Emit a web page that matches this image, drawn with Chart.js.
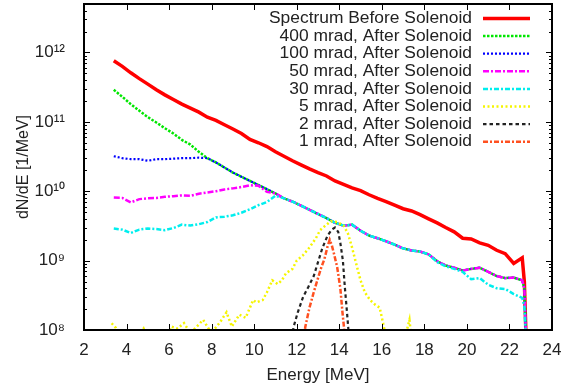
<!DOCTYPE html>
<html>
<head>
<meta charset="utf-8">
<script src="https://cdn.jsdelivr.net/npm/chart.js@4"></script>
<style>
  html, body { margin: 0; padding: 0; background: #fff; }
</style>
</head>
<body>
<canvas id="chart" width="573" height="387"></canvas>
<script>
// energy grid (MeV) shared by the broad spectra
const energy = [3.4, 3.8, 4.2, 4.6, 5.0, 5.4, 5.8, 6.2, 6.6, 7.0,
  7.4, 7.8, 8.2, 8.6, 9.0, 9.4, 9.8, 10.2, 10.6, 11.0,
  11.4, 11.8, 12.2, 12.6, 13.0, 13.4, 13.8, 14.2, 14.6, 15.0,
  15.4, 15.8, 16.2, 16.6, 17.0, 17.4, 17.8, 18.2, 18.6, 19.0,
  19.4, 19.8, 20.2, 20.6, 21.0, 21.4, 21.8, 22.2, 22.6, 22.7, 22.8];

const beforeSolenoid = [7.6e11, 6.3e11, 5.1e11, 4.2e11, 3.5e11, 2.9e11, 2.45e11, 2.1e11, 1.8e11, 1.58e11,
  1.38e11, 1.17e11, 1.05e11, 9.1e10, 7.9e10, 6.8e10, 5.6e10, 5.0e10, 4.4e10, 3.7e10,
  3.2e10, 2.75e10, 2.4e10, 2.1e10, 1.86e10, 1.66e10, 1.41e10, 1.26e10, 1.12e10, 1.02e10,
  8.9e9, 7.9e9, 7.1e9, 6.3e9, 5.6e9, 5.2e9, 4.6e9, 4.0e9, 3.5e9, 3.0e9,
  2.6e9, 2.1e9, 2.05e9, 1.8e9, 1.66e9, 1.41e9, 1.26e9, 9.1e8, 1.1e9, 5.0e8, 5e7];

const mrad400 = [2.9e11, 2.3e11, 1.8e11, 1.45e11, 1.17e11, 9.8e10, 8.1e10, 6.8e10, 5.5e10, 4.7e10,
  3.7e10, 3.0e10, 2.6e10, 2.2e10, 1.86e10, 1.62e10, 1.41e10, 1.23e10, 1.07e10, 9.3e9,
  7.9e9, 7.1e9, 6.2e9, 5.4e9, 4.7e9, 4.1e9, 3.5e9, 3.2e9, 3.3e9, 2.7e9,
  2.3e9, 2.1e9, 1.9e9, 1.7e9, 1.5e9, 1.4e9, 1.35e9, 1.23e9, 9.8e8, 8.5e8,
  7.9e8, 7.2e8, 7.6e8, 7.9e8, 6.9e8, 6.0e8, 5.6e8, 5.7e8, 5.2e8, 4.0e8, 5e7];

const mrad100 = [3.2e10, 3.0e10, 2.9e10, 2.9e10, 2.75e10, 2.9e10, 2.9e10, 2.95e10, 3.0e10, 3.0e10,
  3.05e10, 3.0e10, 2.6e10, 2.2e10, 1.86e10, 1.62e10, 1.41e10, 1.23e10, 1.07e10, 9.3e9,
  7.9e9, 7.1e9, 6.2e9, 5.4e9, 4.7e9, 4.1e9, 3.5e9, 3.2e9, 3.3e9, 2.7e9,
  2.3e9, 2.1e9, 1.9e9, 1.7e9, 1.5e9, 1.4e9, 1.35e9, 1.23e9, 9.8e8, 8.5e8,
  7.9e8, 7.2e8, 7.6e8, 7.9e8, 6.9e8, 6.0e8, 5.6e8, 5.7e8, 5.2e8, 4.0e8, 5e7];

const mrad50 = [8.1e9, 8.0e9, 6.9e9, 7.7e9, 7.9e9, 8.0e9, 8.3e9, 8.5e9, 8.7e9, 8.6e9,
  9.2e9, 9.6e9, 1.0e10, 1.06e10, 1.1e10, 1.15e10, 1.22e10, 1.2e10, 9.8e9, 9.3e9,
  7.9e9, 7.1e9, 6.2e9, 5.4e9, 4.7e9, 4.1e9, 3.5e9, 3.2e9, 3.3e9, 2.7e9,
  2.3e9, 2.1e9, 1.9e9, 1.7e9, 1.5e9, 1.4e9, 1.35e9, 1.23e9, 9.8e8, 8.5e8,
  7.9e8, 7.2e8, 7.6e8, 7.9e8, 6.9e8, 6.0e8, 5.6e8, 5.7e8, 5.2e8, 4.0e8, 5e7];

const mrad30 = [2.9e9, 2.8e9, 2.5e9, 2.8e9, 2.9e9, 2.85e9, 2.75e9, 2.95e9, 3.3e9, 3.2e9,
  3.35e9, 3.6e9, 4.2e9, 4.3e9, 4.5e9, 4.9e9, 5.5e9, 6.3e9, 7.0e9, 8.6e9,
  7.9e9, 7.1e9, 6.2e9, 5.4e9, 4.7e9, 4.1e9, 3.5e9, 3.2e9, 3.3e9, 2.7e9,
  2.3e9, 2.1e9, 1.9e9, 1.7e9, 1.5e9, 1.4e9, 1.35e9, 1.23e9, 9.5e8, 8.3e8,
  7.6e8, 6.9e8, 5.4e8, 5.6e8, 4.5e8, 4.0e8, 3.9e8, 3.3e8, 2.9e8, 2.2e8, 5e7];

// narrow-acceptance spectra, each on its own energy grid
const mrad5E = [3.3, 3.5, 3.8, 4.2, 4.8, 5.1, 5.8, 6.1, 6.4, 6.7, 7.0, 7.3, 7.6, 7.9, 8.1, 8.4, 8.7, 8.95,
  9.3, 9.6, 9.95, 10.1, 10.4, 10.6, 10.85, 11.1, 11.3, 11.5, 11.8, 12.0, 12.3, 12.6, 12.9, 13.1,
  13.4, 13.6, 13.9, 14.2, 14.4, 14.6, 14.8, 15.0, 15.2, 15.45, 15.7, 15.9, 16.1, 16.3, 16.8, 17.1, 17.3, 17.45];
const mrad5 = [1.25e8, 1.07e8, 6e7, 6e7, 1.05e8, 6e7, 6e7, 1.12e8, 1.05e8, 1.26e8, 9e7, 1.12e8, 1.4e8, 1.0e8, 1.0e8, 1.3e8, 1.8e8, 1.12e8,
  1.66e8, 1.5e8, 2.7e8, 2.5e8, 2.7e8, 3.5e8, 5.2e8, 4.6e8, 5.2e8, 6.6e8, 7.6e8, 1.0e9, 1.2e9, 1.55e9, 2.1e9, 2.75e9,
  3.3e9, 3.7e9, 3.6e9, 3.2e9, 2.5e9, 1.55e9, 8.9e8, 5.2e8, 3.5e8, 2.7e8, 2.3e8, 2.1e8, 1.1e8, 5e7, 5e7, 8e7, 1.4e8, 5e7];

const mrad2E = [11.7, 11.85, 12.05, 12.3, 12.55, 12.8, 13.0, 13.2, 13.45, 13.65, 13.8, 13.95, 14.05, 14.17, 14.26, 14.35, 14.42, 14.5];
const mrad2 = [5e7, 1.1e8, 1.8e8, 3.0e8, 4.2e8, 6.0e8, 9.5e8, 1.5e9, 2.3e9, 2.8e9, 3.0e9, 2.6e9, 1.8e9, 1.0e9, 4.2e8, 2.0e8, 1.1e8, 5e7];

const mrad1E = [12.3, 12.4, 12.6, 12.8, 12.95, 13.15, 13.3, 13.45, 13.55, 13.65, 13.75, 13.9, 14.05, 14.15, 14.22, 14.3];
const mrad1 = [5e7, 1.1e8, 2.1e8, 3.5e8, 5.0e8, 7.9e8, 1.05e9, 1.6e9, 2.0e9, 1.66e9, 1.26e9, 8.1e8, 4.0e8, 1.8e8, 1.1e8, 5e7];

const seriesNames = ['Spectrum Before Solenoid', '400 mrad, After Solenoid', '100 mrad, After Solenoid',
  '50 mrad, After Solenoid', '30 mrad, After Solenoid', '5 mrad, After Solenoid',
  '2 mrad, After Solenoid', '1 mrad, After Solenoid'];

const xTicks = [2, 4, 6, 8, 10, 12, 14, 16, 18, 20, 22, 24];
const yTicks = [1e8, 2e8, 3e8, 4e8, 5e8, 6e8, 7e8, 8e8, 9e8,
  1e9, 2e9, 3e9, 4e9, 5e9, 6e9, 7e9, 8e9, 9e9,
  1e10, 2e10, 3e10, 4e10, 5e10, 6e10, 7e10, 8e10, 9e10,
  1e11, 2e11, 3e11, 4e11, 5e11, 6e11, 7e11, 8e11, 9e11,
  1e12, 2e12, 3e12, 4e12, 5e12];

const FONT = "'Liberation Sans', Arial, sans-serif";
const TEXT = '#222';

function pts(xs, ys) {
  return xs.map((x, i) => ({ x: x, y: ys[i] }));
}

const styles = [
  { color: '#ff0000', width: 3.5, dash: [] },
  { color: '#00e600', width: 2.5, dash: [2.5, 1.5] },
  { color: '#0000ff', width: 2.2, dash: [2, 2] },
  { color: '#ff00ff', width: 2.5, dash: [6, 2, 2, 2] },
  { color: '#00eeee', width: 2.5, dash: [5, 2, 2, 2] },
  { color: '#f5f500', width: 2.5, dash: [2, 2.5] },
  { color: '#222222', width: 2.2, dash: [3.5, 3] },
  { color: '#ff5020', width: 2.5, dash: [5, 2, 2, 2] }
];

const seriesData = [
  pts(energy, beforeSolenoid),
  pts(energy, mrad400),
  pts(energy, mrad100),
  pts(energy, mrad50),
  pts(energy, mrad30),
  pts(mrad5E, mrad5),
  pts(mrad2E, mrad2),
  pts(mrad1E, mrad1)
];

const datasets = seriesData.map((d, i) => ({
  label: seriesNames[i],
  data: d,
  borderColor: styles[i].color,
  borderWidth: styles[i].width,
  borderDash: styles[i].dash,
  pointRadius: 0,
  fill: false,
  tension: 0,
  order: -i   // later series drawn on top
}));

const SUP = { '0': '\u2070', '1': '\u00b9', '2': '\u00b2', '3': '\u00b3', '4': '\u2074',
  '5': '\u2075', '6': '\u2076', '7': '\u2077', '8': '\u2078', '9': '\u2079' };

function isDecade(v) {
  const e = Math.log10(v);
  return Math.abs(e - Math.round(e)) < 1e-6;
}

// frame with inward ticks on all four sides
const frameTicks = {
  id: 'frameTicks',
  afterDatasetsDraw(chart) {
    const { ctx, chartArea: a, scales } = chart;
    ctx.save();
    ctx.strokeStyle = '#000';
    ctx.lineWidth = 1;
    ctx.beginPath();
    scales.x.ticks.forEach(t => {
      const px = Math.round(scales.x.getPixelForValue(t.value)) + 0.5;
      ctx.moveTo(px, a.bottom); ctx.lineTo(px, a.bottom - 6);
      ctx.moveTo(px, a.top); ctx.lineTo(px, a.top + 6);
    });
    scales.y.ticks.forEach(t => {
      const py = Math.round(scales.y.getPixelForValue(t.value)) + 0.5;
      const len = isDecade(t.value) ? 6 : 3;
      ctx.moveTo(a.left, py); ctx.lineTo(a.left + len, py);
      ctx.moveTo(a.right, py); ctx.lineTo(a.right - len, py);
    });
    ctx.stroke();
    ctx.lineWidth = 2;
    ctx.strokeRect(a.left, a.top, a.right - a.left, a.bottom - a.top);
    ctx.restore();
  }
};

// gnuplot style key: right aligned text with a line sample after it
const sampleKey = {
  id: 'sampleKey',
  afterDraw(chart) {
    const { ctx } = chart;
    const textRight = 472, lineX0 = 483, lineX1 = 530, top = 18.5, step = 17.6;
    ctx.save();
    ctx.font = '17.4px ' + FONT;
    ctx.fillStyle = TEXT;
    ctx.textAlign = 'right';
    ctx.textBaseline = 'middle';
    chart.data.datasets.forEach((ds, i) => {
      const y = top + i * step;
      ctx.fillText(ds.label, textRight, y);
      ctx.beginPath();
      ctx.strokeStyle = ds.borderColor;
      ctx.lineWidth = ds.borderWidth;
      ctx.setLineDash(ds.borderDash);
      ctx.moveTo(lineX0, y);
      ctx.lineTo(lineX1, y);
      ctx.stroke();
    });
    ctx.restore();
  }
};

new Chart(document.getElementById('chart'), {
  type: 'line',
  data: { datasets: datasets },
  options: {
    responsive: false,
    animation: false,
    layout: { padding: { top: 4, right: 21, left: 0, bottom: 0 } },
    plugins: { legend: { display: false }, tooltip: { enabled: false } },
    scales: {
      x: {
        type: 'linear',
        min: 2,
        max: 24,
        bounds: 'data',
        afterBuildTicks: s => { s.ticks = xTicks.map(v => ({ value: v })); },
        afterFit: s => { s.height = 57; s.paddingLeft = 0; s.paddingRight = 0; },
        ticks: { padding: 10, color: TEXT, font: { family: FONT, size: 17 }, maxRotation: 0 },
        grid: { display: false, drawTicks: false },
        border: { display: false },
        title: { display: true, text: 'Energy [MeV]', color: TEXT,
                 font: { family: FONT, size: 17 }, padding: { top: 0, bottom: 1 } }
      },
      y: {
        type: 'logarithmic',
        min: 1e8,
        max: 5e12,
        bounds: 'data',
        afterBuildTicks: s => { s.ticks = yTicks.map(v => ({ value: v })); },
        afterFit: s => { s.width = 84; s.paddingTop = 0; s.paddingBottom = 0; },
        ticks: {
          autoSkip: false,
          padding: 19,
          color: TEXT,
          font: { family: FONT, size: 17 },
          callback: v => isDecade(v)
            ? '10' + String(Math.round(Math.log10(v))).split('').map(c => SUP[c]).join('')
            : ''
        },
        grid: { display: false, drawTicks: false },
        border: { display: false },
        title: { display: true, text: 'dN/dE [1/MeV]', color: TEXT,
                 font: { family: FONT, size: 16 }, padding: { top: 14, bottom: 0 } }
      }
    }
  },
  plugins: [frameTicks, sampleKey]
});
</script>
</body>
</html>
